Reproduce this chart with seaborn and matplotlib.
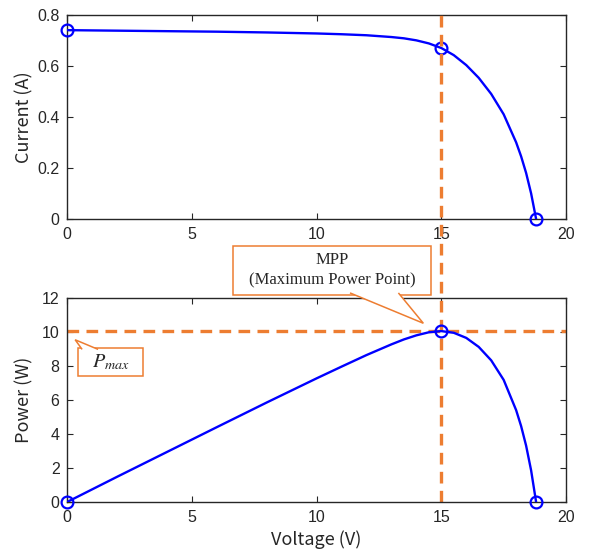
import numpy as np
import matplotlib
matplotlib.use("Agg")
import matplotlib.pyplot as plt
import matplotlib.transforms as mtransforms
from matplotlib.patches import Rectangle, Polygon
import seaborn as sns

voltage = [0, 2, 4, 6, 8, 10, 11, 12, 13, 13.5, 14, 14.5, 15, 15.5, 16, 16.5, 17, 17.5,
           18, 18.2, 18.4, 18.6, 18.8]
current = [0.740, 0.738, 0.736, 0.734, 0.731, 0.727, 0.724, 0.720, 0.713, 0.708, 0.700, 0.688,
           0.670, 0.642, 0.603, 0.553, 0.490, 0.410, 0.300, 0.245, 0.180, 0.100, 0.0]
power = [0, 1.48, 2.94, 4.40, 5.85, 7.27, 7.96, 8.64, 9.27, 9.56, 9.80, 9.98,
         10.05, 9.95, 9.65, 9.12, 8.33, 7.18, 5.40, 4.46, 3.31, 1.86, 0]

key_v = [0, 15, 18.8]
key_i = [0.74, 0.67, 0.0]
key_p = [0, 10.05, 0]

mpp_v = 15
pmax = 10.05

# callouts: box (x0, x1, y0, y1), pointer base (xa, xb, y), tip (x, y) in P-V data units
mpp_box = (6.65, 14.59, 12.18, 15.06)
mpp_base = (11.34, 13.28, 12.18)
mpp_tip = (14.28, 10.51)
pmax_box = (0.45, 3.03, 7.40, 9.04)
pmax_base = (0.60, 1.24, 9.04)
pmax_tip = (0.32, 9.54)

sns.set_style("ticks")
plt.rcParams["font.family"] = ["Liberation Sans", "DejaVu Sans"]
plt.rcParams["mathtext.fontset"] = "stix"
plt.rcParams["xtick.direction"] = "in"
plt.rcParams["ytick.direction"] = "in"
plt.rcParams["axes.edgecolor"] = "#262626"
plt.rcParams["xtick.color"] = "#262626"
plt.rcParams["ytick.color"] = "#262626"

blue = "#0000ff"
orange = "#ed7d31"
label_font = dict(family=["Noto Sans CJK JP", "DejaVu Sans"], fontsize=13, color="#262626")

fig = plt.figure(figsize=(5.89, 5.5), dpi=100)
ax1 = fig.add_axes([0.114, 0.602, 0.847, 0.371])
ax2 = fig.add_axes([0.114, 0.0873, 0.847, 0.371])

for ax in (ax1, ax2):
    ax.tick_params(top=True, right=True, labelsize=11.5, length=4, width=0.8, pad=5.5)
    for s in ax.spines.values():
        s.set_linewidth(1.0)
    ax.set_xlim(0, 20)
    ax.set_xticks([0, 5, 10, 15, 20])

# top: I-V
sns.lineplot(x=voltage, y=current, ax=ax1, color=blue, lw=1.7, zorder=3)
ax1.plot(key_v, key_i, "o", mfc="none", mec=blue, mew=1.6, ms=8.5, clip_on=False, zorder=5)
ax1.set_ylim(0, 0.8)
ax1.set_yticks([0, 0.2, 0.4, 0.6, 0.8])
ax1.set_yticklabels(["0", "0.2", "0.4", "0.6", "0.8"])
ax1.set_ylabel("Current (A)", **label_font)
ax1.yaxis.set_label_coords(-0.068, 0.5)

# bottom: P-V
sns.lineplot(x=voltage, y=power, ax=ax2, color=blue, lw=1.7, zorder=3)
ax2.axhline(pmax, color=orange, lw=2.4, dashes=(3.5, 2.2), zorder=2)
ax2.plot(key_v, key_p, "o", mfc="none", mec=blue, mew=1.6, ms=8.5, clip_on=False, zorder=5)
ax2.set_ylim(0, 12)
ax2.set_yticks(range(0, 13, 2))
ax2.set_ylabel("Power (W)", **label_font)
ax2.yaxis.set_label_coords(-0.068, 0.5)
ax2.set_xlabel("Voltage (V)", labelpad=4, **label_font)

# vertical MPP line through both panels
trans = mtransforms.blended_transform_factory(ax2.transData, fig.transFigure)
ax2.plot([mpp_v, mpp_v], [0.0873, 0.973], transform=trans, color=orange, lw=2.4,
         dashes=(3.5, 2.2), clip_on=False, zorder=2)


def callout(ax, box, base, tip, text, **kw):
    x0, x1, y0, y1 = box
    ax.add_patch(Rectangle((x0, y0), x1 - x0, y1 - y0, fc="white", ec=orange, lw=1.1,
                           clip_on=False, zorder=7))
    inset = (y1 - y0) * 0.04 if base[2] == y0 else -(y1 - y0) * 0.04
    by = base[2] + inset
    ax.add_patch(Polygon([(base[0], by), tip, (base[1], by)], closed=False, fc="white",
                         ec=orange, lw=1.1, clip_on=False, zorder=8))
    ax.text((x0 + x1) / 2, (y0 + y1) / 2, text, ha="center", va="center", clip_on=False,
            zorder=9, **kw)


callout(ax2, mpp_box, mpp_base, mpp_tip, "MPP\n(Maximum Power Point)", fontsize=12,
        family="Liberation Serif", linespacing=1.4)
callout(ax2, pmax_box, pmax_base, pmax_tip, "$P_{max}$", fontsize=14.5)

fig.savefig("out.png", dpi=100)
